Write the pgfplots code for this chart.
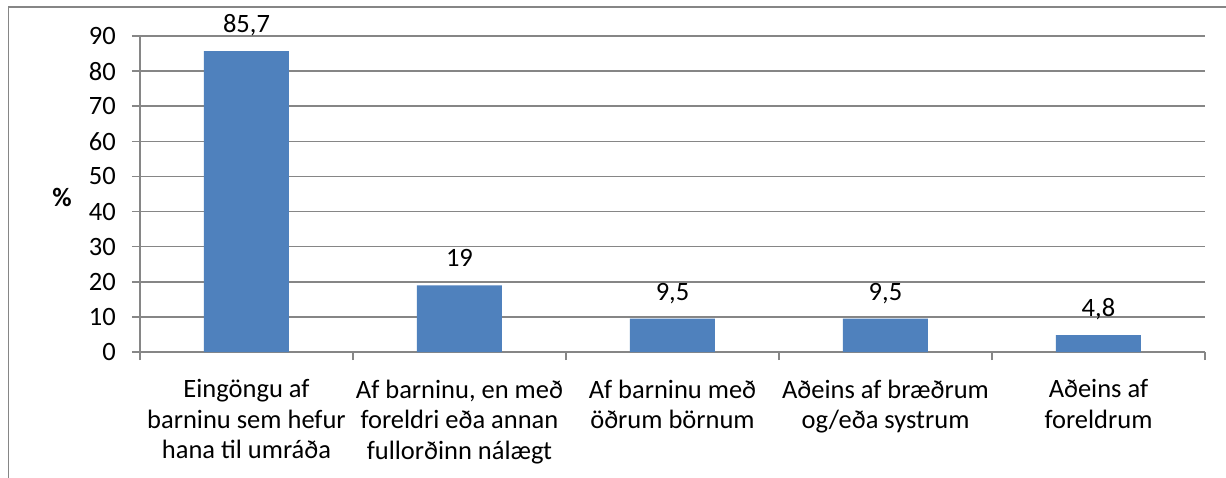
\documentclass[border=0pt]{standalone}
\usepackage{fontspec}
\setmainfont{Carlito}
\usepackage{pgfplots}
\pgfplotsset{compat=1.18}
\definecolor{barblue}{HTML}{4F81BD}
\definecolor{gridgray}{HTML}{868686}
\newcommand{\chartfont}{\fontsize{26.5bp}{30.5bp}\selectfont}
\begin{document}
\begin{tikzpicture}
\useasboundingbox (0,0) rectangle (1226bp,-478bp);
\clip (0,0) rectangle (1226bp,-478bp);
\fill[white] (0,0) rectangle (1226bp,-478bp);
\draw[gridgray, line width=1.5bp] (8.5bp,-600bp) -- (8.5bp,-7bp) -- (1300bp,-7bp);
\begin{axis}[
  at={(140bp,-352bp)}, anchor=south west,
  scale only axis, width=1065bp, height=316bp,
  xmin=-0.5, xmax=4.5, ymin=0, ymax=90,
  axis x line*=bottom, axis y line*=left,
  axis line style={gridgray, line width=1.5bp, -},
  ytick={0,10,...,90},
  ymajorgrids, grid style={gridgray, line width=1.5bp},
  xtick={-0.5,0.5,1.5,2.5,3.5,4.5},
  x tick label as interval,
  xticklabels={{Eingöngu af\\barninu sem hefur\\hana til umráða},
               {Af barninu, en með\\foreldri eða annan\\fullorðinn nálægt},
               {Af barninu með\\öðrum börnum},
               {Aðeins af bræðrum\\og/eða systrum},
               {Aðeins af\\foreldrum}},
  tick align=outside,
  major tick length=8bp,
  tick style={gridgray, line width=1.5bp},
  tick label style={font=\chartfont, text=black},
  /pgf/number format/assume math mode=true,
  yticklabel style={anchor=east, inner sep=0pt, xshift=-16bp},
  xticklabel style={align=center, anchor=north, inner sep=0pt, yshift=-19.5bp},
  ylabel={\textbf{\%}},
  ylabel style={rotate=-90, at={(axis description cs:-0.0732,0.4905)}, anchor=center, font=\chartfont},
  nodes near coords, point meta=explicit symbolic,
  every node near coord/.append style={anchor=base, yshift=18.5bp, font=\chartfont, text=black, inner sep=0pt},
]
\addplot[ybar, bar width=85bp, fill=barblue, draw=none] table[meta=label] {
x y label
0 85.7 85,7
1 19 19
2 9.5 9,5
3 9.5 9,5
4 4.8 4,8
};
\end{axis}
\end{tikzpicture}
\end{document}
